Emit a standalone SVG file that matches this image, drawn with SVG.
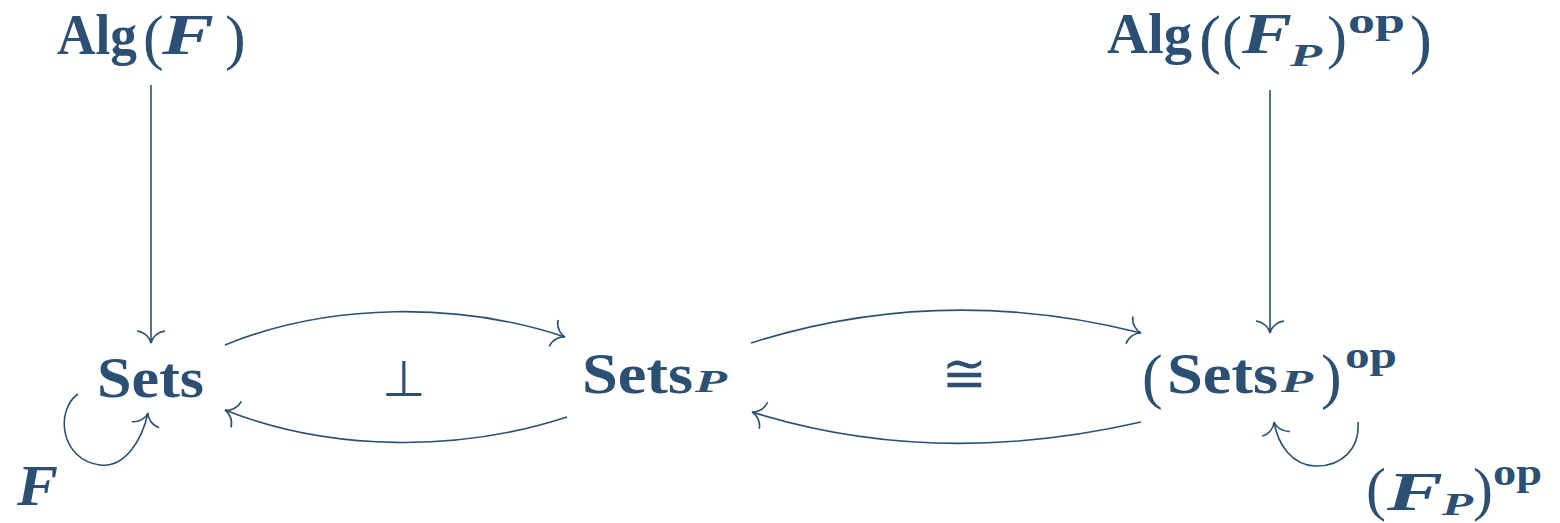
<svg xmlns="http://www.w3.org/2000/svg" width="1560" height="523" viewBox="0 0 1560 523">
<defs>
<style>
.t{fill:#2c5073;font-family:"Liberation Serif","DejaVu Serif",serif;}
.b{font-weight:bold;}
.i{font-style:italic;font-weight:bold;}
.r{font-weight:normal;}
.c{fill:none;stroke:#2c5073;stroke-width:1.6;}
</style>
<marker id="ah" viewBox="-15 -15 30 30" markerWidth="30" markerHeight="30" refX="0" refY="0" orient="auto" markerUnits="userSpaceOnUse" overflow="visible">
<path d="M -12 -14 C -11 -6 -5 -1 0 0 C -5 1 -11 6 -12 14" fill="none" stroke="#2c5073" stroke-width="1.6"/>
</marker>
</defs>
<rect width="1560" height="523" fill="#ffffff"/>

<g id="connectors">
<path class="c" d="M 151 85 L 151 343" marker-end="url(#ah)"/>
<path class="c" d="M 1270 90 L 1270 333" marker-end="url(#ah)"/>
<path class="c" d="M 225 345 C 330 302 460 302 565 337" marker-end="url(#ah)"/>
<path class="c" d="M 567 417 C 460 452 330 452 225 410" marker-end="url(#ah)"/>
<path class="c" d="M 751 343 C 880 302 1010 300 1141 333" marker-end="url(#ah)"/>
<path class="c" d="M 1141 422 C 1010 452 880 452 752 412" marker-end="url(#ah)"/>
<path class="c" d="M 78 394 C 55 410 60 460 100 465 C 125 468 142 440 148 413" marker-end="url(#ah)"/>
<path class="c" d="M 1358 422 C 1360 450 1340 467 1315 466 C 1292 465 1278 445 1274 422" marker-end="url(#ah)"/>
</g>

<g id="node-algF">
<text class="t b" x="57" y="54" font-size="57" textLength="80" lengthAdjust="spacingAndGlyphs">Alg</text>
<text class="t r" x="143" y="58" font-size="62">(</text>
<text class="t i" x="162" y="54" font-size="57" textLength="52" lengthAdjust="spacingAndGlyphs">F</text>
<text class="t r" x="225" y="58" font-size="62">)</text>
</g>

<g id="node-algFPop">
<text class="t b" x="1107" y="53" font-size="57" textLength="85" lengthAdjust="spacingAndGlyphs">Alg</text>
<text class="t r" x="1199" y="61" font-size="66">(</text>
<text class="t r" x="1222" y="57" font-size="60">(</text>
<text class="t i" x="1242" y="53" font-size="57" textLength="50" lengthAdjust="spacingAndGlyphs">F</text>
<text class="t i" x="1290" y="66" font-size="32" textLength="32" lengthAdjust="spacingAndGlyphs">P</text>
<text class="t r" x="1327" y="57" font-size="60">)</text>
<text class="t b" x="1348" y="33" font-size="36" textLength="57" lengthAdjust="spacingAndGlyphs">op</text>
<text class="t r" x="1410" y="61" font-size="66">)</text>
</g>

<g id="node-sets">
<text class="t b" x="97" y="397" font-size="57" textLength="107" lengthAdjust="spacingAndGlyphs">Sets</text>
</g>

<g id="node-setsP">
<text class="t b" x="582" y="393" font-size="57" textLength="111" lengthAdjust="spacingAndGlyphs">Sets</text>
<text class="t i" x="695" y="392" font-size="32" textLength="32" lengthAdjust="spacingAndGlyphs">P</text>
</g>

<g id="node-setsPop">
<text class="t r" x="1142" y="397" font-size="62">(</text>
<text class="t b" x="1167" y="393" font-size="57" textLength="111" lengthAdjust="spacingAndGlyphs">Sets</text>
<text class="t i" x="1281" y="392" font-size="32" textLength="32" lengthAdjust="spacingAndGlyphs">P</text>
<text class="t r" x="1321" y="397" font-size="62">)</text>
<text class="t b" x="1345" y="368" font-size="38" textLength="52" lengthAdjust="spacingAndGlyphs">op</text>
</g>

<g id="label-F">
<text class="t i" x="17" y="505" font-size="57" textLength="41" lengthAdjust="spacingAndGlyphs">F</text>
</g>

<g id="label-FPop">
<text class="t r" x="1366" y="509" font-size="60">(</text>
<text class="t i" x="1387" y="510" font-size="55" textLength="56" lengthAdjust="spacingAndGlyphs">F</text>
<text class="t i" x="1442" y="515" font-size="32" textLength="31" lengthAdjust="spacingAndGlyphs">P</text>
<text class="t r" x="1473" y="509" font-size="60">)</text>
<text class="t b" x="1493" y="485" font-size="38" textLength="49" lengthAdjust="spacingAndGlyphs">op</text>
</g>

<g id="label-perp">
<text x="404" y="396" font-size="50" text-anchor="middle" style="fill:#2c5073;font-family:'DejaVu Sans',sans-serif">⊥</text>
</g>
<g id="label-cong">
<text x="964" y="392" font-size="54" text-anchor="middle" style="fill:#2c5073;font-family:'DejaVu Sans',sans-serif">≅</text>
</g>
</svg>
